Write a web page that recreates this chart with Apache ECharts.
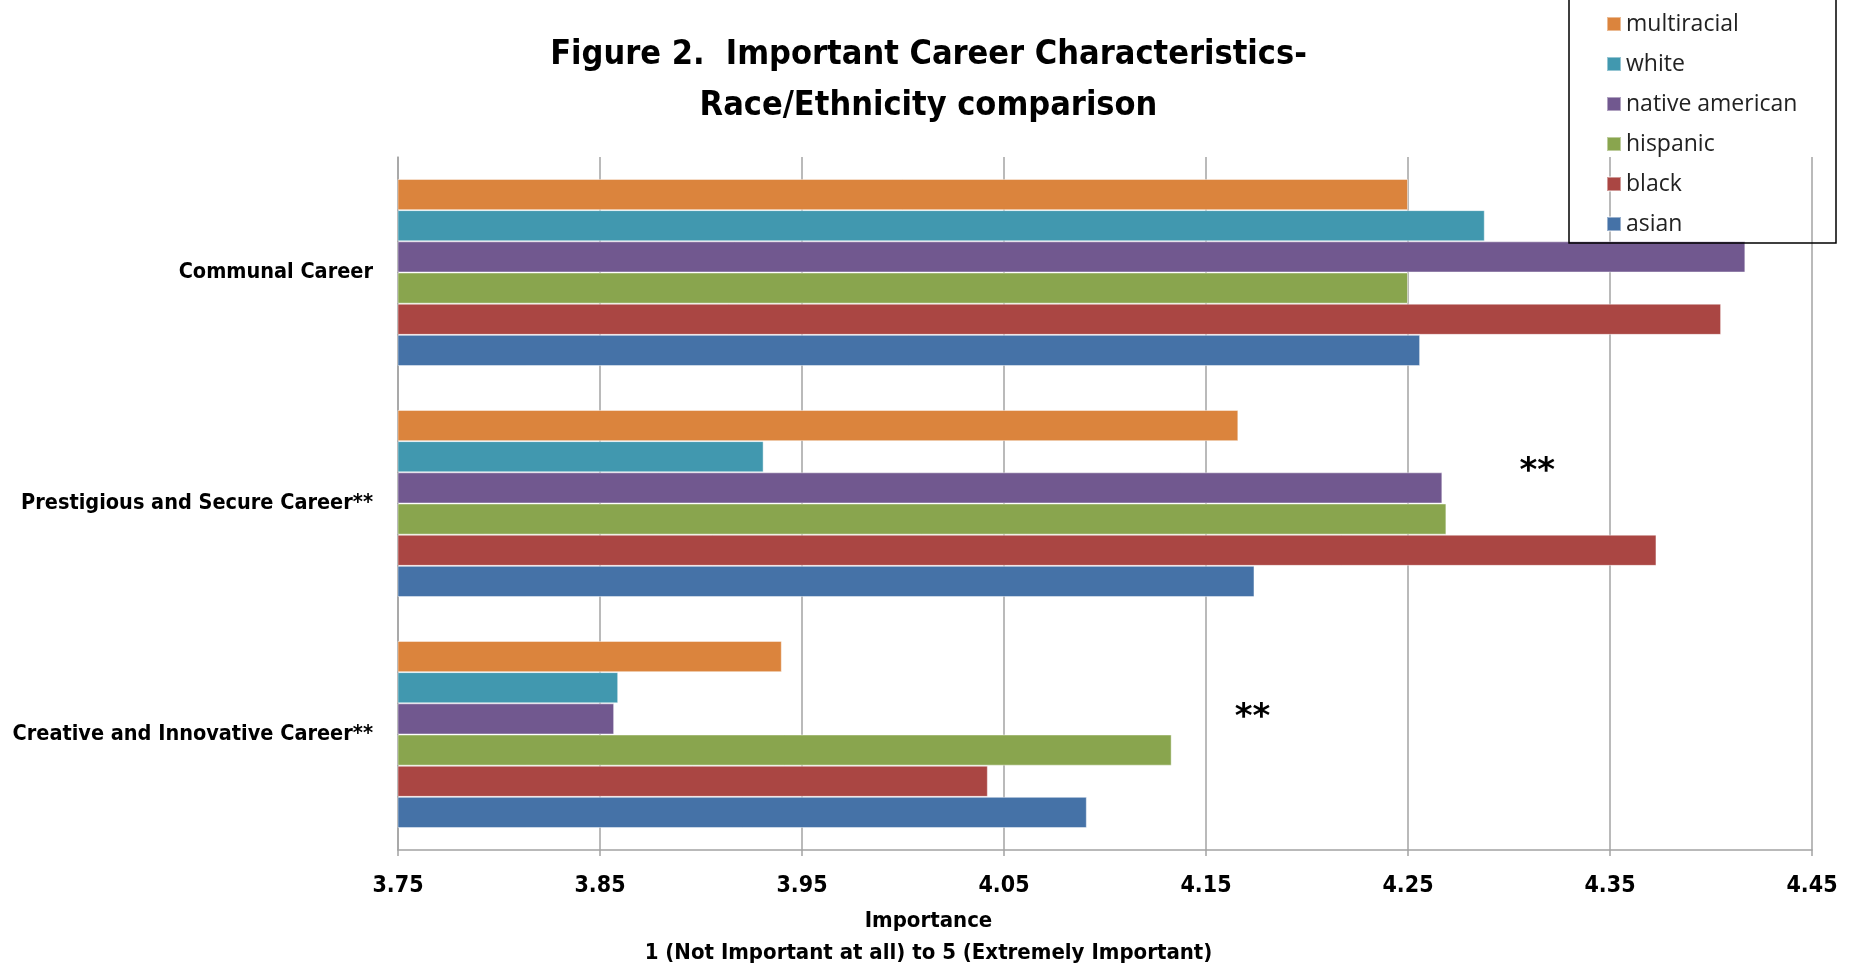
<!DOCTYPE html>
<html>
<head>
<meta charset="utf-8">
<title>Figure 2. Important Career Characteristics</title>
<script src="https://cdn.jsdelivr.net/npm/echarts@6/dist/echarts.min.js"></script>
<style>
  html, body { margin: 0; padding: 0; background: #fff; }
  #chart { width: 1857px; height: 968px; }
</style>
</head>
<body>
<div id="chart"></div>
<script>
// categories, bottom to top as ECharts lays out a y category axis
const categories = ['Creative and Innovative Career**', 'Prestigious and Secure Career**', 'Communal Career']

// groups in legend order (top bar of each cluster first)
const groups = ['multiracial', 'white', 'native american', 'hispanic', 'black', 'asian']
const multiracial = [3.940, 4.166, 4.250]
const white = [3.859, 3.931, 4.288]
const nativeAmerican = [3.857, 4.267, 4.417]
const hispanic = [4.133, 4.269, 4.250]
const black = [4.042, 4.373, 4.405]
const asian = [4.091, 4.174, 4.256]

const xTicks = { min: 3.75, max: 4.45, step: 0.1 }

// significance markers: [x value, category]
const stars = [
  [4.314, 'Prestigious and Secure Career**'],
  [4.173, 'Creative and Innovative Career**'],
]

const colors = ['#DB843D', '#4198AF', '#71588F', '#89A54E', '#AA4643', '#4572A7']
const seriesData = [multiracial, white, nativeAmerican, hispanic, black, asian]

const narrow = "'Liberation Sans Narrow', 'DejaVu Sans Condensed', 'Liberation Sans', sans-serif"
const gray = '#a3a3a3'

const chart = echarts.init(document.getElementById('chart'))

const series = groups.map((name, i) => ({
  name,
  type: 'bar',
  data: seriesData[i],
  barGap: '0%',
  barCategoryGap: '19%',
  itemStyle: { color: colors[i], borderColor: 'rgba(255,255,255,0.45)', borderWidth: 1 },
  animation: false,
}))

// the ** marks ride on the first (top) bar of each cluster, pushed down from it
series[0].markPoint = {
  symbol: 'rect',
  symbolSize: 1,
  itemStyle: { color: 'transparent' },
  label: {
    show: true,
    formatter: '**',
    color: '#000',
    fontSize: 34,
    fontWeight: 'bold',
    fontFamily: 'DejaVu Sans',
  },
  data: stars.map((s, i) => ({
    coord: s,
    label: { offset: [0, i === 0 ? 47 : 62] },
  })),
}

chart.setOption({
  backgroundColor: '#fff',
  animation: false,
  title: [
    {
      text: 'Figure 2.  Important Career Characteristics-\nRace/Ethnicity comparison',
      left: 'center',
      top: 25,
      textStyle: {
        fontFamily: narrow,
        fontWeight: 'bold',
        fontSize: 34,
        lineHeight: 51,
        color: '#000',
      },
    },
    {
      text: 'Importance\n1 (Not Important at all) to 5 (Extremely Important)',
      left: 'center',
      top: 900,
      textStyle: {
        fontFamily: narrow,
        fontWeight: 'bold',
        fontSize: 22,
        lineHeight: 32,
        color: '#000',
      },
    },
  ],
  legend: {
    data: groups,
    orient: 'vertical',
    left: 1606,
    top: 12,
    padding: 0,
    itemWidth: 14,
    itemHeight: 14,
    itemGap: 16,
    icon: 'rect',
    textStyle: { fontFamily: "'Open Sans', sans-serif", fontSize: 23, lineHeight: 24, color: '#222' },
  },
  graphic: [
    {
      type: 'rect',
      shape: { x: 1569, y: -2, width: 267, height: 245 },
      style: { fill: 'transparent', stroke: '#000', lineWidth: 1.5 },
      z: 100,
    },
  ],
  grid: { left: 398, right: 45, top: 157, bottom: 118, containLabel: false, outerBoundsMode: 'none' },
  xAxis: {
    type: 'value',
    min: xTicks.min,
    max: xTicks.max,
    interval: xTicks.step,
    axisLine: { show: true, lineStyle: { color: gray, width: 1.5 } },
    axisTick: { show: true, length: 6, lineStyle: { color: gray, width: 1.5 } },
    splitLine: { show: true, lineStyle: { color: gray, width: 1.5 } },
    axisLabel: {
      margin: 25,
      color: '#000',
      fontFamily: narrow,
      fontWeight: 'bold',
      fontSize: 23,
      formatter: (v) => v.toFixed(2),
    },
  },
  yAxis: {
    type: 'category',
    data: categories,
    axisLine: { show: true, lineStyle: { color: gray, width: 1.5 } },
    axisTick: { show: false },
    axisLabel: {
      margin: 25,
      color: '#000',
      fontFamily: narrow,
      fontWeight: 'bold',
      fontSize: 21.5,
    },
  },
  series,
})
</script>
</body>
</html>
